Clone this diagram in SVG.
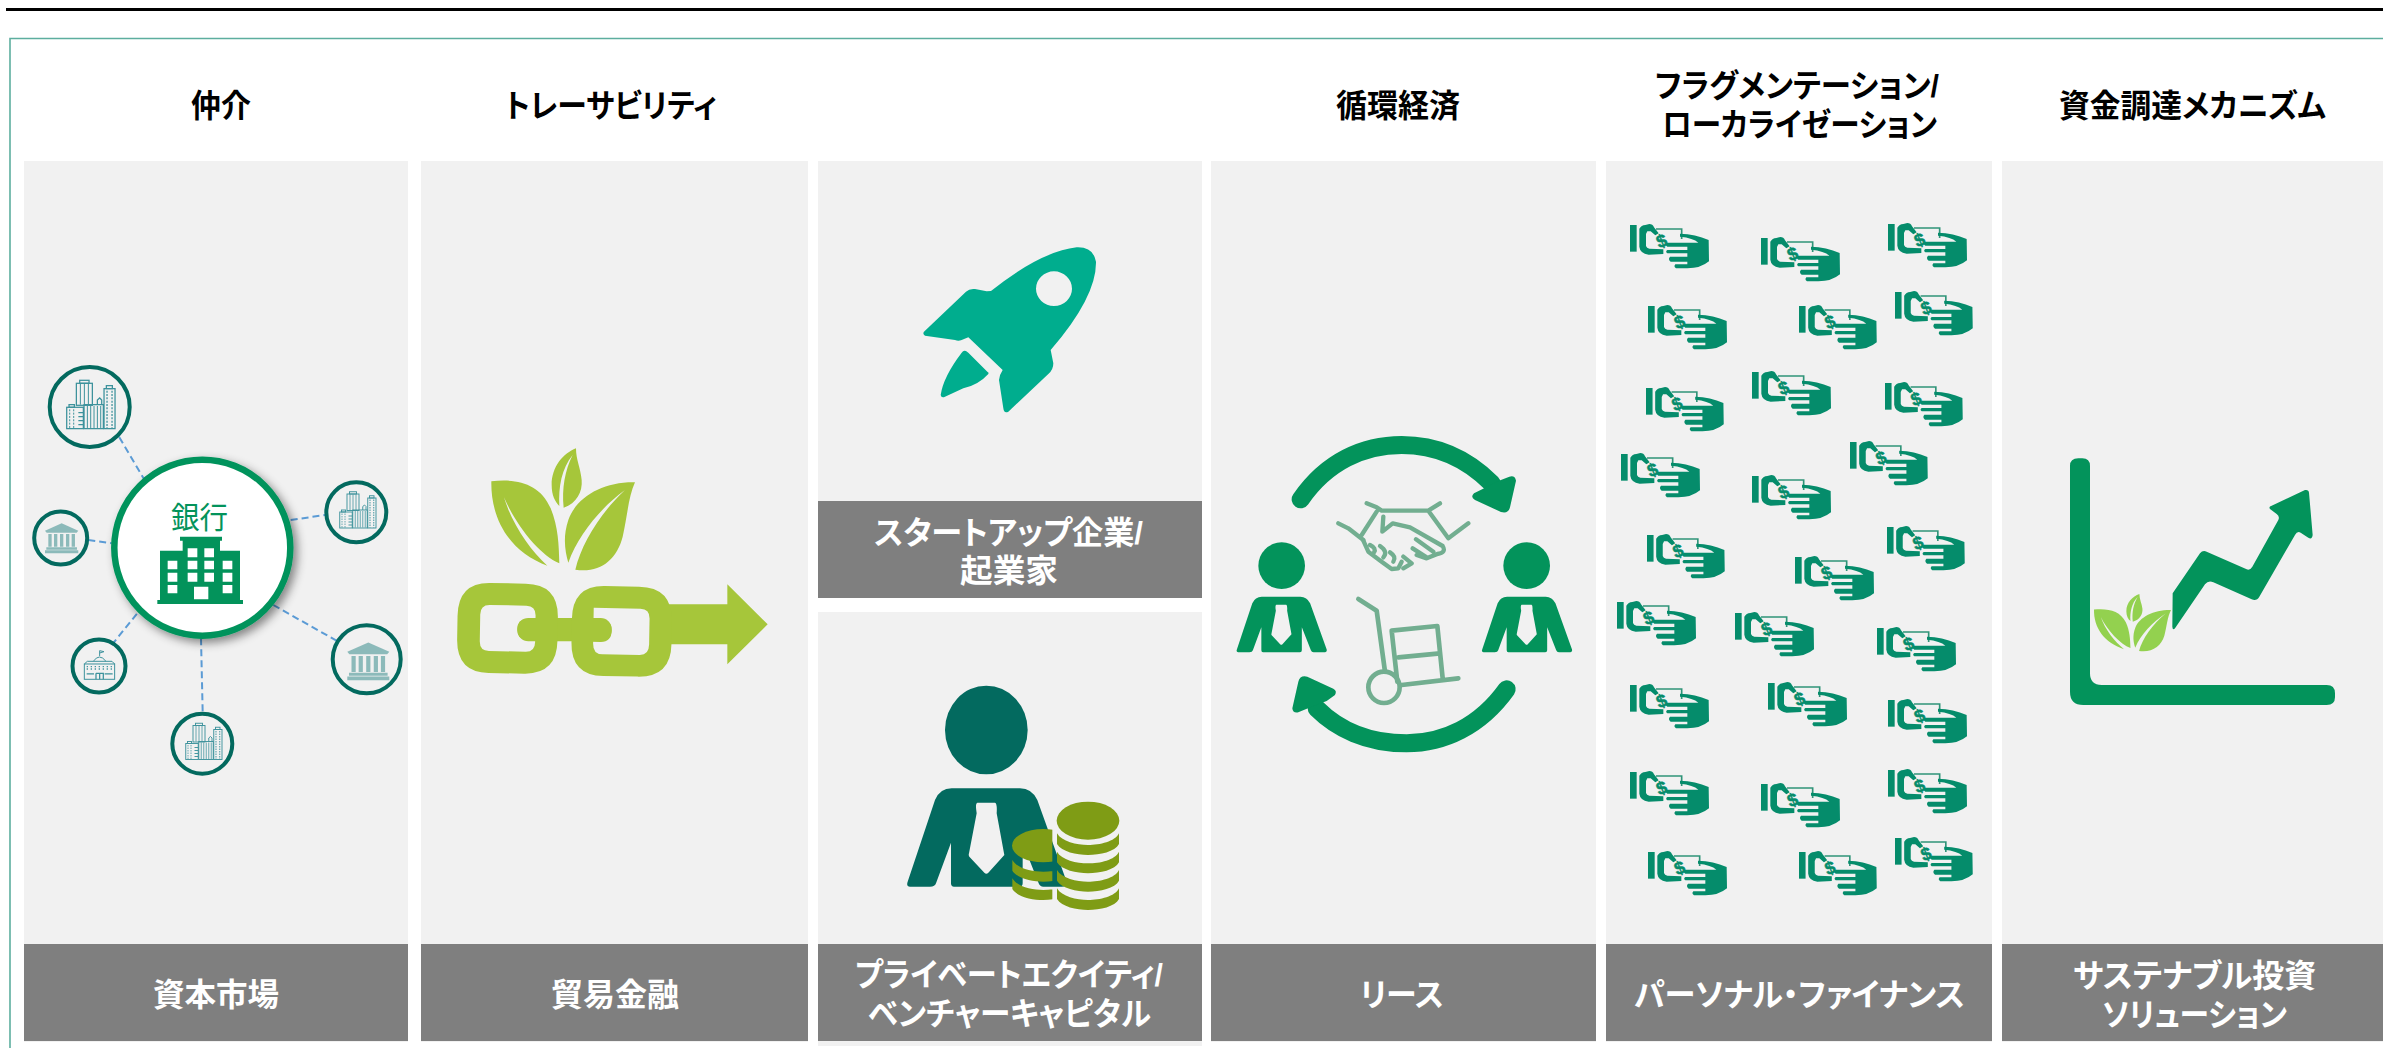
<svg xmlns="http://www.w3.org/2000/svg" xmlns:xlink="http://www.w3.org/1999/xlink" width="2383" height="1048" viewBox="0 0 2383 1048">
<style>
text{font-family:"Liberation Sans","Noto Sans CJK JP",sans-serif}
.hd{font-size:32px;font-weight:700;fill:#000;font-feature-settings:"palt"}
.ft{font-size:32px;font-weight:700;fill:#fff;font-feature-settings:"palt"}
.panel{fill:#f1f1f1}
.lab{fill:#7f7f7f}
.sat{fill:none;stroke:#036a5f;stroke-width:4}
.dash{fill:none;stroke:#5b9bd5;stroke-width:2;stroke-dasharray:7 4}
.gr{fill:#03935b}
.lime{fill:#a6c63a}
.line{fill:none;stroke:#72ae90;stroke-width:13;stroke-linecap:round;stroke-linejoin:round}
.ic{fill:none;stroke:#3d929c;stroke-width:3.8}
.ic2{fill:none;stroke:#3d929c;stroke-width:3}
.bk{fill:#8cbaba}
.mn{fill:#058c6b}
.dollar{font-family:"Liberation Sans",sans-serif;font-size:54px;font-weight:700;fill:#058c6b;stroke:#058c6b;stroke-width:1.5}
</style>
<defs>
<filter id="sh" x="-20%" y="-20%" width="150%" height="150%"><feDropShadow dx="4" dy="4" stdDeviation="5" flood-color="#000" flood-opacity=".45"/></filter>
<clipPath id="smallcoin"><rect x="380" y="460" width="137" height="240"/></clipPath>
<path id="suit" fill-rule="evenodd" d="M165,390 Q180,355 215,355 L420,355 Q455,355 472,390 L560,635 Q563,650 545,650 L490,650 Q480,650 476,640 L428,518 L428,640 Q428,650 418,650 L222,650 Q213,650 213,640 L213,518 L168,640 Q165,650 150,650 L90,650 Q78,650 83,635 Z M292,398 L345,398 Q352,400 350,430 L373,555 L325,608 Q319,614 313,608 L268,560 Q265,555 267,550 L290,430 Q285,400 292,398Z"/>
<g id="leaves">
<path d="M184,184 C260,175 330,190 362,265 C385,320 387,380 388,430 C330,405 260,320 222,232 C245,310 300,390 352,437 C240,395 182,300 184,184Z"/>
<path d="M615,187 C520,185 440,230 415,300 C398,350 405,395 415,428 C445,345 510,265 585,210 C510,280 455,370 436,449 C510,460 560,420 578,350 C592,290 595,230 615,187Z"/>
<path d="M438,85 C400,100 365,140 365,195 C365,225 375,245 388,258 C385,200 395,145 428,105 C405,150 395,205 401,263 C440,250 458,215 455,180 C452,145 438,120 438,85Z"/>
</g>
<g id="band"><path d="M531,490 C545,515 590,525 624,525 C660,525 705,515 717,490 L717,522 C705,545 660,555 624,555 C590,555 545,545 531,522Z"/></g>
<g id="city">
<rect class="ic" x="32" y="12" width="48" height="66"/><rect class="ic" x="42" y="3" width="28" height="9"/>
<path class="ic2" d="M44,14V76M56,14V76M68,14V76"/>
<rect class="ic" x="3" y="84" width="50" height="64"/><rect class="ic" x="10" y="76" width="16" height="8"/>
<path class="ic2" d="M12,90V146M24,90V146" stroke-dasharray="6 4"/><path class="ic" d="M38,100H52M38,112H52M38,124H52M38,136H52"/>
<rect class="ic" x="55" y="76" width="58" height="72"/><path class="ic2" d="M65,80V146M75,80V146M85,80V146M95,80V146M105,80V146"/>
<path class="ic" d="M95,76V62L102,56L108,62V76"/>
<rect class="ic" x="115" y="28" width="33" height="120"/><rect class="ic" x="122" y="19" width="18" height="9"/>
<path class="ic" d="M124,34V146M139,34V146" stroke-dasharray="6 4"/>
</g>
<g id="bank">
<path class="bk" d="M0,24 L50,2 L100,24 L95,30 L5,30Z"/>
<path class="bk" d="M10,34h10v38h-10zM27,34h10v38h-10zM45,34h10v38h-10zM63,34h10v38h-10zM80,34h10v38h-10zM4,74h92v7h-92zM0,83h100v9h-100z"/>
</g>
<g id="school">
<rect class="ic2" x="1" y="42" width="91" height="46"/>
<path class="ic2" d="M1,42 L10,34 H84 L92,42M28,34 Q46,8 66,34M47,18V2L60,5L47,9"/>
<path class="ic" d="M10,48V60M22,48V60M34,48V60M46,48V60M58,48V60M70,48V60M82,48V60" stroke-dasharray="4 3"/>
<path class="ic" d="M8,72H30M62,72H86M36,70H58V88M36,70V88M47,70V88"/>
</g>
<g id="money" class="mn">
<rect x="0" y="3" width="20" height="80"/>
<path d="M28,14 Q34,4 46,3 L58,0 Q68,0 72,10 L86,28 L76,34 L62,22 L52,22 L48,30 L48,66 Q50,72 58,74 L100,76 L100,90 L56,92 Q30,88 28,68Z"/>
<path d="M78,15H155V45" fill="none" stroke="#2f9478" stroke-width="5"/>
<text class="dollar" x="0" y="0" transform="translate(101,68) rotate(-20)" text-anchor="middle">$</text>
<path d="M150,29 Q196,30 236,48 L237,112 Q212,133 172,133 L138,133 Q130,128 136,121 L172,121 L172,113 L122,113 Q113,106 120,98 L172,98 L172,88 L112,88 Q105,83 112,78 L172,78 L172,68 L112,68 Q103,63 112,56 L205,56 Q190,42 150,38Z"/>
</g>
</defs>

<g id="frame">
<line x1="6" y1="9.5" x2="2383" y2="9.5" stroke="#000" stroke-width="3"/>
<path d="M10,1048V38.5H2383" fill="none" stroke="#5dae9f" stroke-width="1.6"/>
</g>

<g id="panels">
<rect class="panel" x="24" y="161" width="384" height="881"/>
<rect class="panel" x="421" y="161" width="387" height="881"/>
<rect class="panel" x="818" y="161" width="384" height="340"/>
<rect class="panel" x="818" y="612" width="384" height="434"/>
<rect class="panel" x="1211" y="161" width="385" height="881"/>
<rect class="panel" x="1606" y="161" width="386" height="881"/>
<rect class="panel" x="2002" y="161" width="381" height="881"/>
</g>

<g id="connectors">
<path class="dash" d="M119.3,437.3L144,479"/>
<path class="dash" d="M290.7,520L325,515"/>
<path class="dash" d="M88.3,540L111.7,543.3"/>
<path class="dash" d="M111.7,645L137.3,613.3"/>
<path class="dash" d="M273.3,605L338.3,641.7"/>
<path class="dash" d="M201,638.3L202.7,713.3"/>
</g>

<g id="sat-a"><circle class="sat" cx="89.7" cy="407" r="40"/><use href="#city" transform="translate(65.7,379.3) scale(.3333)"/></g>
<g id="sat-b"><circle class="sat" cx="356.3" cy="512.3" r="30"/><use href="#city" transform="translate(339,491) scale(.25)"/></g>
<g id="sat-c"><circle class="sat" cx="60.7" cy="538" r="26.5"/><use href="#bank" transform="translate(45,522.7) scale(.333)"/></g>
<g id="sat-d"><circle class="sat" cx="99" cy="666" r="26.5"/><use href="#school" transform="translate(84,650) scale(.333)"/></g>
<g id="sat-e"><circle class="sat" cx="366.7" cy="659.3" r="34"/><use href="#bank" transform="translate(347.3,641.7) scale(.42)"/></g>
<g id="sat-f"><circle class="sat" cx="202.3" cy="743.7" r="30"/><use href="#city" transform="translate(185,722.5) scale(.25)"/></g>

<g id="hub">
<circle cx="202.3" cy="547.7" r="88" fill="#fff" stroke="#03935b" stroke-width="6.5" filter="url(#sh)"/>
<text x="171" y="528" textLength="57" lengthAdjust="spacingAndGlyphs" style="font-size:30px;fill:#03935b">銀行</text>
<g transform="translate(0,330) scale(.33333)">
<path class="gr" fill-rule="evenodd" d="M472,810H480V662H548V632H540V620H666V632H660V662H720V810H729V822H472Z M503,692h29v26h-29z M503,728h29v27h-29z M503,765h29v25h-29z M563,655h29v27h-29z M613,655h29v27h-29z M563,692h29v26h-29z M613,692h29v26h-29z M563,728h29v27h-29z M613,728h29v27h-29z M668,692h29v26h-29z M668,728h29v27h-29z M668,765h29v25h-29z M582,770h43v38h-43z"/>
</g>
</g>

<g id="trace-icon" transform="translate(430,420) scale(.33333)">
<use href="#leaves" class="lime"/>
<path class="lime" d="M700,553 L892,553 L892,493 L1013,613 L892,733 L892,673 L715,673Z"/>
<rect class="lime" x="262" y="594" width="283" height="70" rx="33"/>
<path class="lime" fill-rule="evenodd" transform="rotate(1 232 626)" d="M178,490H285Q383,490 383,590V660Q383,760 285,760H178Q82,760 82,660V590Q82,490 178,490Z M178,556Q150,556 150,585V665Q150,694 178,694H288Q316,694 316,665V596H290Q262,596 262,627Q262,658 290,658H316V585Q316,556 288,556Z"/>
<path class="lime" fill-rule="evenodd" transform="rotate(1 574 634)" d="M522,499H625Q725,499 725,600V670Q725,769 625,769H522Q425,769 425,670V600Q425,499 522,499Z M490,600V565H630Q658,565 658,594V672Q658,704 630,704H518Q490,704 490,672V667H512Q545,667 545,633Q545,600 512,600Z"/>
</g>

<g id="rocket" transform="translate(880,220) scale(.33333)">
<path fill="#00ad8e" fill-rule="evenodd" d="M333,213 Q480,95 590,82 Q640,80 648,125 Q650,230 512,390 L520,430 Q520,450 505,462 L385,575 Q372,582 370,565 L357,480 Q358,465 368,450 L265,352 L245,360 Q235,364 225,360 L135,347 Q125,340 135,332 L258,215 Q268,205 285,207 L320,214Z M576,206 A54,52 0 1,0 468,206 A54,52 0 1,0 576,206Z"/>
<path fill="#00ad8e" d="M258,393 Q250,390 245,398 Q190,470 182,525 Q184,535 195,530 L250,505 Q295,495 325,462 Q328,458 322,455 L265,398Z"/>
</g>

<g id="investor" transform="translate(880,670) scale(.33333)">
<ellipse cx="319" cy="180" rx="124" ry="133" fill="#036a5f"/>
<use href="#suit" fill="#036a5f"/>
<g fill="#7f9c15">
<g clip-path="url(#smallcoin)">
<ellipse cx="490" cy="527" rx="94" ry="50"/>
<use href="#band" transform="translate(-134,80)"/>
<use href="#band" transform="translate(-134,135)"/>
</g>
<ellipse cx="624" cy="452" rx="94" ry="57"/>
<use href="#band"/><use href="#band" transform="translate(0,55)"/><use href="#band" transform="translate(0,110)"/><use href="#band" transform="translate(0,165)"/>
</g>
</g>

<g id="lease" transform="translate(1220,420) scale(.33333)">
<path d="M242,238 C320,125 430,75 545,75 C660,75 745,120 815,190" fill="none" stroke="#03935b" stroke-width="54" stroke-linecap="round"/>
<path class="gr" d="M788,207 L762,220 Q750,232 765,240 L843,276 Q865,282 870,262 L888,182 Q885,165 868,170 L835,183Z"/>
<path d="M860,808 C780,920 670,970 560,970 C440,970 350,925 290,865" fill="none" stroke="#03935b" stroke-width="54" stroke-linecap="round"/>
<path class="gr" d="M320,843 L345,825 Q352,812 340,806 L262,770 Q240,765 235,785 L217,865 Q218,880 235,877 L275,860Z"/>
<circle class="gr" cx="185" cy="437" r="70"/><use href="#suit" class="gr" transform="translate(3.7,329.4) scale(.565)"/>
<circle class="gr" cx="920" cy="437" r="70"/><use href="#suit" class="gr" transform="translate(739.7,329.4) scale(.565)"/>
<path class="line" d="M440,250L470,262L485,272H625L660,250M470,275L425,345M355,310L385,325L430,360M625,272L685,355L745,310M490,290L487,335L518,310L570,322L668,378Q680,398 652,402L620,415L590,405M588,358L640,395M578,385L620,412M550,410L575,430L550,445"/>
<path class="line" d="M430,362L445,395L485,425L515,447L535,445L545,425M450,375Q470,385 462,397M480,378Q505,395 490,412M510,397Q530,410 520,425"/>
<path class="line" style="stroke-width:14" d="M415,537L470,572L495,755M545,795L715,775M515,632L652,618L668,775M515,632L532,785M535,712L660,700"/>
<circle cx="492" cy="802" r="47" fill="none" stroke="#72ae90" stroke-width="14"/>
</g>

<g id="money-field">
<use href="#money" transform="translate(1630,224) scale(.33333)"/>
<use href="#money" transform="translate(1761,237) scale(.33333)"/>
<use href="#money" transform="translate(1888,223) scale(.33333)"/>
<use href="#money" transform="translate(1648,305) scale(.33333)"/>
<use href="#money" transform="translate(1799,305) scale(.328 .33333)"/>
<use href="#money" transform="translate(1895,291) scale(.328 .33333)"/>
<use href="#money" transform="translate(1646,387) scale(.328 .33333)"/>
<use href="#money" transform="translate(1752,371) scale(.33333)"/>
<use href="#money" transform="translate(1885,382) scale(.328 .33333)"/>
<use href="#money" transform="translate(1621,453) scale(.33333)"/>
<use href="#money" transform="translate(1752,475) scale(.33333)"/>
<use href="#money" transform="translate(1850,441) scale(.328 .33333)"/>
<use href="#money" transform="translate(1647,534) scale(.328 .33333)"/>
<use href="#money" transform="translate(1795,556) scale(.33333)"/>
<use href="#money" transform="translate(1887,526) scale(.328 .33333)"/>
<use href="#money" transform="translate(1617,601) scale(.33333)"/>
<use href="#money" transform="translate(1735,612) scale(.33333)"/>
<use href="#money" transform="translate(1877,627) scale(.33333)"/>
<use href="#money" transform="translate(1630,684) scale(.33333)"/>
<use href="#money" transform="translate(1768,682) scale(.33333)"/>
<use href="#money" transform="translate(1888,699) scale(.33333)"/>
<use href="#money" transform="translate(1630,771) scale(.33333)"/>
<use href="#money" transform="translate(1761,783) scale(.33333)"/>
<use href="#money" transform="translate(1888,769) scale(.33333)"/>
<use href="#money" transform="translate(1648,851) scale(.33333)"/>
<use href="#money" transform="translate(1799,851) scale(.328 .33333)"/>
<use href="#money" transform="translate(1895,837) scale(.328 .33333)"/>
</g>

<g id="sustain-icon" transform="translate(2050,440) scale(.33333)">
<path class="gr" d="M60,78 Q60,55 85,55 L97,55 Q120,55 120,78 L120,700 Q120,735 155,735 L830,735 Q855,735 855,760 L855,772 Q855,795 830,795 L100,795 Q60,795 60,755Z"/>
<path class="gr" d="M368,460 L450,340 Q458,330 470,335 L590,388 Q600,392 607,380 L685,240 Q690,230 680,222 L660,207 Q655,200 665,197 L765,150 Q776,148 777,158 L788,285 Q786,300 775,293 L752,278 Q742,272 735,285 L628,470 Q620,484 605,478 L490,427 Q475,420 465,433 L375,565 Q368,572 367,560Z"/>
<use href="#leaves" fill="#93d14f" transform="translate(33.4,422) scale(.536 .47)"/>
</g>

<g id="headers">
<text class="hd" x="191" y="117" textLength="60" lengthAdjust="spacingAndGlyphs">仲介</text>
<text class="hd" x="505" y="117" textLength="212" lengthAdjust="spacingAndGlyphs">トレーサビリティ</text>
<text class="hd" x="1336" y="117" textLength="124" lengthAdjust="spacingAndGlyphs">循環経済</text>
<text class="hd" x="1655" y="97" textLength="284" lengthAdjust="spacingAndGlyphs">フラグメンテーション/</text>
<text class="hd" x="1662" y="136" textLength="275" lengthAdjust="spacingAndGlyphs">ローカライゼーション</text>
<text class="hd" x="2059" y="117" textLength="267" lengthAdjust="spacingAndGlyphs">資金調達メカニズム</text>
</g>

<g id="labels">
<rect class="lab" x="24" y="944" width="384" height="97"/>
<text class="ft" x="153" y="1006" textLength="126" lengthAdjust="spacingAndGlyphs">資本市場</text>
<rect class="lab" x="421" y="944" width="387" height="97"/>
<text class="ft" x="551" y="1006" textLength="128" lengthAdjust="spacingAndGlyphs">貿易金融</text>
<rect class="lab" x="818" y="501" width="384" height="97"/>
<text class="ft" x="874" y="544" textLength="269" lengthAdjust="spacingAndGlyphs">スタートアップ企業/</text>
<text class="ft" x="960" y="582" textLength="98" lengthAdjust="spacingAndGlyphs">起業家</text>
<rect class="lab" x="818" y="944" width="384" height="97"/>
<text class="ft" x="855" y="986" textLength="308" lengthAdjust="spacingAndGlyphs">プライベートエクイティ/</text>
<text class="ft" x="868" y="1025" textLength="283" lengthAdjust="spacingAndGlyphs">ベンチャーキャピタル</text>
<rect class="lab" x="1211" y="944" width="385" height="97"/>
<text class="ft" x="1360" y="1006" textLength="84" lengthAdjust="spacingAndGlyphs">リース</text>
<rect class="lab" x="1606" y="944" width="386" height="97"/>
<text class="ft" x="1634" y="1006" textLength="331" lengthAdjust="spacingAndGlyphs">パーソナル・ファイナンス</text>
<rect class="lab" x="2002" y="944" width="381" height="97"/>
<text class="ft" x="2073" y="987" textLength="243" lengthAdjust="spacingAndGlyphs">サステナブル投資</text>
<text class="ft" x="2102" y="1026" textLength="185" lengthAdjust="spacingAndGlyphs">ソリューション</text>
</g>
</svg>
